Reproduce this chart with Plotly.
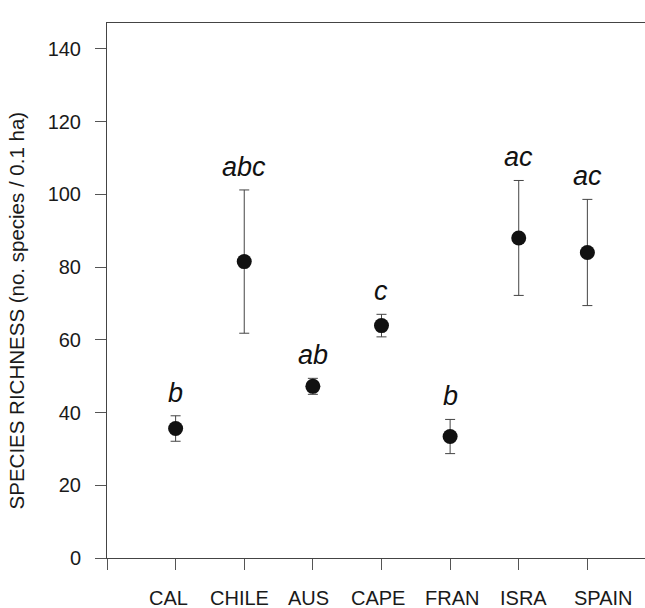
import plotly.graph_objects as go

# Mean species richness per 0.1 ha plot in each mediterranean-climate region
regions = ["CAL", "CHILE", "AUS", "CAPE", "FRAN", "ISRA", "SPAIN"]
richness = [35.6, 81.5, 47.2, 63.9, 33.4, 88.0, 84.0]
richness_err = [3.5, 19.7, 2.2, 3.1, 4.7, 15.8, 14.6]
# Letters from the multiple-comparison test
groups = ["b", "abc", "ab", "c", "b", "ac", "ac"]
y_ticks = [0, 20, 40, 60, 80, 100, 120, 140]

# Horizontal nudges (px) for the region names below the axis
label_dx = [-7, -5, -4, -3, 2, 5, 16]

FONT = "Arial, 'Liberation Sans', sans-serif"
xpos = list(range(1, len(regions) + 1))

fig = go.Figure()
fig.add_trace(go.Scatter(
    x=xpos,
    y=richness,
    mode="markers",
    marker=dict(size=15, color="#111111", line=dict(width=0)),
    error_y=dict(type="data", array=richness_err, visible=True,
                 color="#444444", thickness=1, width=5),
    showlegend=False,
    hoverinfo="skip",
))

annotations = []
for x, m, e, g in zip(xpos, richness, richness_err, groups):
    annotations.append(dict(
        x=x, y=m + e, xref="x", yref="y", text=g, showarrow=False,
        xanchor="center", yanchor="bottom", yshift=6,
        font=dict(family=FONT, size=27, color="#111111", style="italic"),
    ))
for x, name, dx in zip(xpos, regions, label_dx):
    annotations.append(dict(
        x=x, y=0, xref="x", yref="paper", text=name, showarrow=False,
        xanchor="center", yanchor="top", xshift=dx, yshift=-27,
        font=dict(family=FONT, size=20, color="#1a1a1a"),
    ))
annotations.append(dict(
    x=-0.168, y=0.462, xref="paper", yref="paper",
    text="SPECIES RICHNESS (no. species / 0.1 ha)", showarrow=False,
    textangle=-90, xanchor="center", yanchor="middle",
    font=dict(family=FONT, size=20.5, color="#1a1a1a"),
))

fig.update_layout(
    width=645, height=608,
    margin=dict(l=107, r=0, t=23, b=50, pad=0),
    paper_bgcolor="white", plot_bgcolor="white",
    font=dict(family=FONT, color="#1a1a1a"),
    annotations=annotations,
    xaxis=dict(
        range=[0, 7.84], tickvals=list(range(0, 8)), showticklabels=False,
        showline=True, linecolor="#444444", linewidth=1, mirror=True,
        ticks="outside", ticklen=11, tickcolor="#555555", tickwidth=1,
        showgrid=False, zeroline=False,
    ),
    yaxis=dict(
        range=[0, 147.1], tickvals=y_ticks,
        showline=True, linecolor="#444444", linewidth=1,
        ticks="outside", ticklen=11, tickcolor="#555555", tickwidth=1,
        ticklabelstandoff=10,
        tickfont=dict(family=FONT, size=20, color="#1a1a1a"),
        showgrid=False, zeroline=False,
    ),
)

fig.write_html("out.html")
